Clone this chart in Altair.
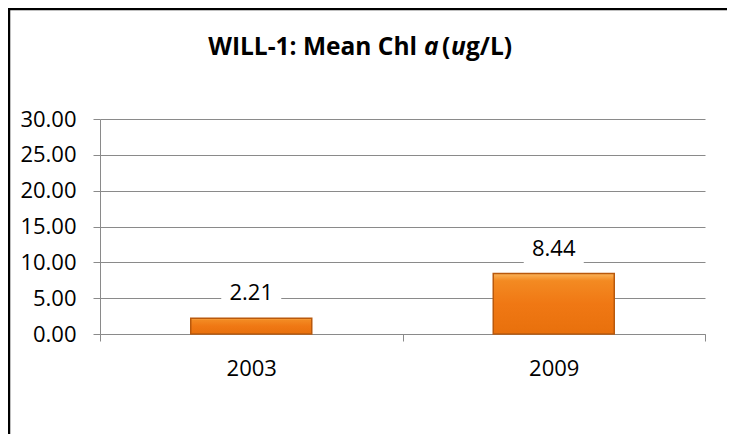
import altair as alt
import pandas as pd

years = ["2003", "2009"]
means = [2.21, 8.44]
labels = ["2.21", "8.44"]
y_ticks = [0, 5, 10, 15, 20, 25, 30]

df = pd.DataFrame({"year": years, "mean": means, "label": labels})

FONT = "Open Sans"
GRAY = "#8a8a8a"

x_enc = alt.X("year:N", title=None, sort=years,
              scale=alt.Scale(paddingInner=0, paddingOuter=0),
              axis=alt.Axis(labelAngle=0, tickBand="extent", tickSize=7, tickColor=GRAY,
                            domainColor=GRAY, labelPadding=17, labelFont=FONT,
                            labelFontSize=22, labelColor="#000000", grid=False))
y_enc = alt.Y("mean:Q", title=None,
              scale=alt.Scale(domain=[0, 30], nice=False),
              axis=alt.Axis(values=y_ticks, format=".2f", tickSize=7, tickColor=GRAY,
                            domainColor=GRAY, gridColor=GRAY, grid=True, labelPadding=17,
                            labelOverlap=False, labelFont=FONT, labelFontSize=22,
                            labelColor="#000000"))

base = alt.Chart(df)

bars = base.mark_bar(
    width={"band": 0.4},
    color={"gradient": "linear", "x1": 0, "y1": 0, "x2": 0, "y2": 1,
           "stops": [{"offset": 0, "color": "#fbb45a"},
                     {"offset": 0.12, "color": "#f38a22"},
                     {"offset": 0.5, "color": "#f07814"},
                     {"offset": 1, "color": "#e8700c"}]},
    stroke="#b9590c", strokeWidth=1.5,
).encode(x=x_enc, y=y_enc)

label_bg = base.mark_bar(
    width=60, color="white", yOffset=-41, y2Offset=-9, opacity=1,
).encode(x=x_enc, y=y_enc, y2="mean:Q")

label_txt = base.mark_text(
    font=FONT, fontSize=22, color="#000000", yOffset=-25, baseline="middle",
).encode(x=x_enc, y=y_enc, text="label:N")


def tpiece(text, x, align, italic):
    return alt.Chart(pd.DataFrame({"t": [text]})).mark_text(
        font=FONT, fontSize=24.5, fontWeight="bold",
        fontStyle="italic" if italic else "normal",
        align=align, baseline="alphabetic", color="#000000",
    ).encode(x=alt.value(x), y=alt.value(-64), text="t:N")


title = (tpiece("WILL-1: Mean Chl", 317, "right", False)
         + tpiece("a", 324, "left", True)
         + tpiece("(", 342, "left", False)
         + tpiece("u", 351, "left", True)
         + tpiece("g/L)", 366, "left", False))

border = alt.Chart(pd.DataFrame({"d": [0]})).mark_rect(
    fill=None, stroke="#000000", strokeWidth=2.5, clip=False,
).encode(x=alt.value(-91), y=alt.value(-110), x2=alt.value(900), y2=alt.value(700))

chart = alt.layer(border, bars, label_bg, label_txt, title).properties(
    width=605, height=215,
    autosize=alt.AutoSizeParams(type="none"),
    padding={"left": 92, "top": 111, "right": 22, "bottom": 100},
).configure_view(stroke=None)

chart.save("out.html", embed_options={"renderer": "svg", "actions": False})
